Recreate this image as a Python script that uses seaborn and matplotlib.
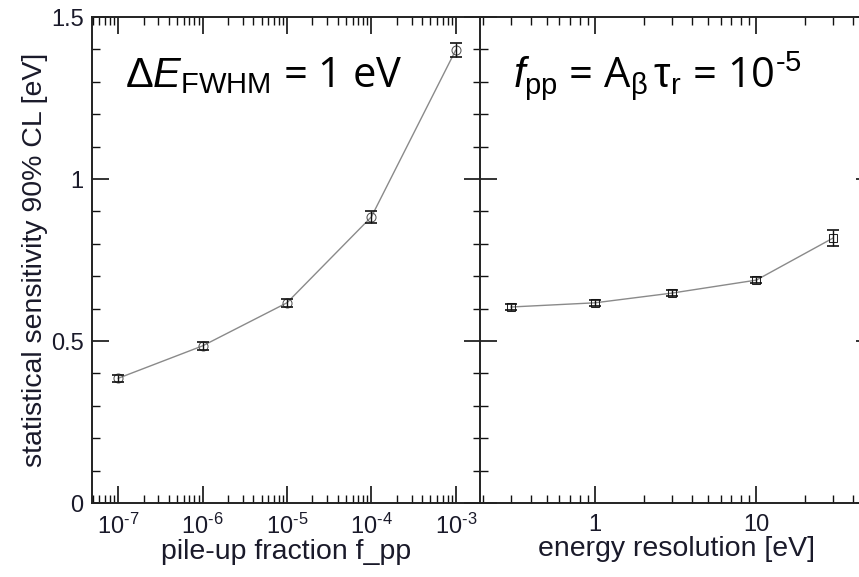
import numpy as np
import pandas as pd
import matplotlib
matplotlib.use("Agg")
import matplotlib.pyplot as plt
import seaborn as sns

# values
pileup_frac = [1e-7, 1e-6, 1e-5, 1e-4, 1e-3]
sens_pileup = [0.385, 0.485, 0.618, 0.883, 1.398]
err_pileup = [0.010, 0.012, 0.012, 0.018, 0.022]

energy_res = [0.3, 1, 3, 10, 30]
sens_energy = [0.605, 0.618, 0.648, 0.688, 0.818]
err_energy = [0.010, 0.010, 0.010, 0.010, 0.025]

left_ticks = [1e-7, 1e-6, 1e-5, 1e-4, 1e-3]
left_ticklabels = [r"10$^{\text{-7}}$", r"10$^{\text{-6}}$", r"10$^{\text{-5}}$",
                   r"10$^{\text{-4}}$", r"10$^{\text{-3}}$"]
right_ticks = [1, 10]
right_ticklabels = ["1", "10"]

sns.set_style("ticks")
plt.rcParams["font.family"] = ["Liberation Sans", "DejaVu Sans"]
plt.rcParams["mathtext.fontset"] = "custom"
plt.rcParams["mathtext.rm"] = "Liberation Sans"
plt.rcParams["mathtext.it"] = "Liberation Sans:italic"

df_pu = pd.DataFrame({"x": pileup_frac, "y": sens_pileup, "e": err_pileup})
df_en = pd.DataFrame({"x": energy_res, "y": sens_energy, "e": err_energy})

fig = plt.figure(figsize=(8.59, 5.77), dpi=100)
ax1 = fig.add_axes([0.1071, 0.1282, 0.4529, 0.8423])
ax2 = fig.add_axes([0.5588, 0.1282, 0.4575, 0.8423])

line_kw = dict(color="#8a8a8a", linewidth=1.0)
err_kw = dict(fmt="none", ecolor="#111111", elinewidth=1.0, capsize=4.5, capthick=1.2)

sns.lineplot(data=df_pu, x="x", y="y", ax=ax1, marker="o", markersize=6.5,
             markerfacecolor="none", markeredgecolor="#555555", **line_kw)
ax1.errorbar(df_pu["x"], df_pu["y"], yerr=df_pu["e"], **err_kw)

sns.lineplot(data=df_en, x="x", y="y", ax=ax2, marker="s", markersize=5.5,
             markerfacecolor="none", markeredgecolor="#222222", **line_kw)
ax2.errorbar(df_en["x"], df_en["y"], yerr=df_en["e"], **err_kw)

for ax in (ax1, ax2):
    ax.set_xscale("log")
    ax.set_ylim(0, 1.5)
    ax.set_yticks([0, 0.5, 1, 1.5])
    ax.set_yticks(np.arange(0, 1.51, 0.1), minor=True)
    ax.tick_params(which="both", direction="in", top=True, right=True,
                   colors="#111111", labelcolor="#1a1a2a")
    ax.tick_params(which="major", length=12, width=1.2, labelsize=17, pad=8)
    ax.tick_params(which="minor", length=6, width=1.0)
    for s in ax.spines.values():
        s.set_linewidth(1.4)
        s.set_color("#222222")

ax1.set_xlim(10 ** -7.31, 10 ** -2.7)
ax1.set_xticks(left_ticks)
ax1.set_xticklabels(left_ticklabels)
ax1.set_yticklabels(["0", "0.5", "1", "1.5"])
ax1.tick_params(axis="y", pad=6)
ax1.set_xlabel("pile-up fraction f_pp", fontsize=20.5, color="#1a1a2a", labelpad=0)
ax1.set_ylabel("statistical sensitivity 90% CL [eV]", fontsize=20.5, color="#1a1a2a", labelpad=2)

ax2.set_xlim(0.193, 53)
ax2.set_xticks(right_ticks)
ax2.set_xticklabels(right_ticklabels)
ax2.set_yticklabels([])
ax2.set_xlabel("energy resolution [eV]", fontsize=20.5, color="#1a1a2a", labelpad=0)
ax2.set_ylabel("")

ax1.text(0.085, 0.855, r"$\Delta E_{\mathrm{FWHM}}$ = 1 eV", transform=ax1.transAxes,
         fontsize=30, family=["Open Sans", "DejaVu Sans"], color="black")
ax2.text(0.085, 0.855, r"$f_{\mathrm{pp}}$ = A$_{\mathrm{β}}\,\mathrm{τ}_{\mathrm{r}}$ = 10$^{\text{-5}}$",
         transform=ax2.transAxes, fontsize=30, family=["Open Sans", "DejaVu Sans"], color="black")

fig.savefig("out.png", dpi=100)
